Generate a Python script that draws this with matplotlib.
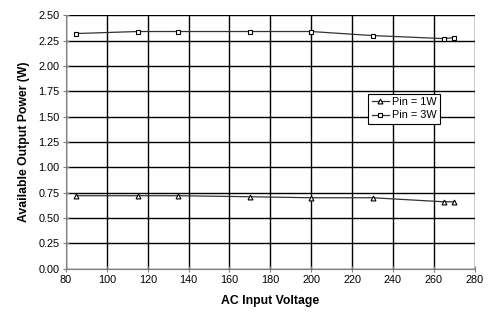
import matplotlib
matplotlib.use("Agg")
import matplotlib.pyplot as plt

voltage = [85, 115, 135, 170, 200, 230, 265, 270]
power_1w = [0.72, 0.72, 0.72, 0.71, 0.70, 0.70, 0.66, 0.66]
power_3w = [2.32, 2.34, 2.34, 2.34, 2.34, 2.30, 2.27, 2.28]

x_ticks = list(range(80, 281, 20))
y_ticks = [i * 0.25 for i in range(11)]

plt.rcParams['font.family'] = ['Liberation Sans', 'DejaVu Sans']


def main():
    fig = plt.figure(figsize=(5.04, 3.18), dpi=100)
    ax = fig.add_axes([66 / 504, 1 - 268.7 / 318, 408.7 / 504, 253.4 / 318])

    ax.plot(voltage, power_1w, color='#333333', lw=0.9, marker='^', ms=3.5,
            mfc='white', mec='black', mew=0.8, label='Pin = 1W')
    ax.plot(voltage, power_3w, color='#333333', lw=0.9, marker='s', ms=3.2,
            mfc='white', mec='black', mew=0.8, label='Pin = 3W')

    ax.set_xlim(80, 280)
    ax.set_ylim(0, 2.5)
    ax.set_xticks(x_ticks)
    ax.set_yticks(y_ticks)
    ax.set_yticklabels(['%.2f' % v for v in y_ticks])
    ax.grid(True, color='black', lw=1.0)
    ax.set_axisbelow(True)

    for side in ['top', 'right']:
        ax.spines[side].set_visible(False)
    ax.spines['left'].set_color('#808080')
    ax.spines['bottom'].set_color('#808080')
    ax.tick_params(direction='inout', length=5, width=0.8, color='#808080',
                   labelsize=7.8, pad=2)

    ax.set_xlabel('AC Input Voltage', fontsize=8.8, fontweight='bold', labelpad=7)
    ax.set_ylabel('Available Output Power (W)', fontsize=8.8, fontweight='bold',
                  labelpad=6)

    leg = ax.legend(loc='upper left', bbox_to_anchor=(0.74, 0.69), fontsize=7.8,
                    frameon=True, fancybox=False, framealpha=1,
                    edgecolor='black', handlelength=1.6, handletextpad=0.3,
                    borderpad=0.3, labelspacing=0.3, borderaxespad=0)
    leg.get_frame().set_linewidth(0.8)

    fig.savefig('out.png', dpi=100)


if __name__ == "__main__":
    main()
